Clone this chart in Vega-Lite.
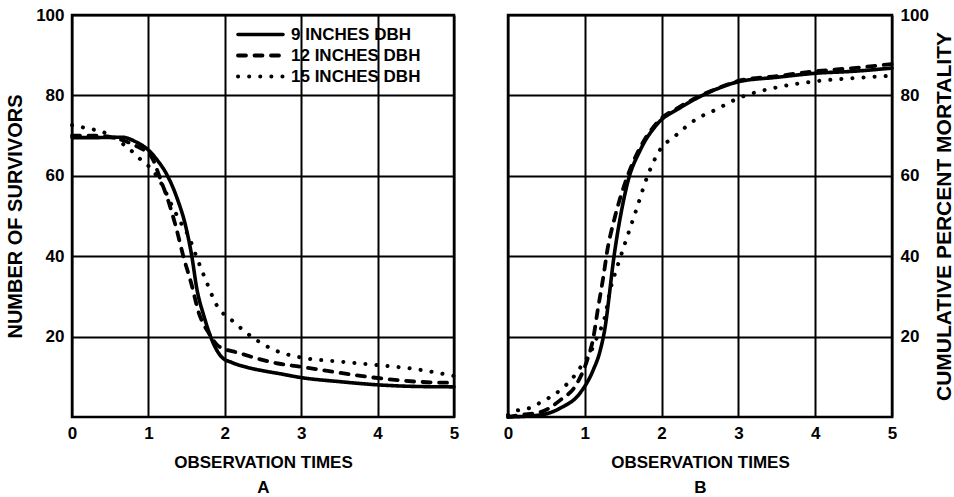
{
  "$schema": "https://vega.github.io/schema/vega-lite/v6.json",
  "background": "white",
  "padding": {"left": 4, "top": 4, "right": 0, "bottom": 0},
  "config": {
    "font": "Liberation Sans",
    "view": {"stroke": "black", "strokeWidth": 2.5},
    "axis": {
      "grid": true, "gridColor": "black", "gridWidth": 2, "gridOpacity": 1,
      "domain": false, "ticks": false,
      "labelFont": "Liberation Sans", "labelFontSize": 17, "labelFontWeight": "bold", "labelColor": "black",
      "labelPadding": 8, "labelFlush": false,
      "titleFont": "Liberation Sans", "titleFontWeight": "bold", "titleColor": "black"
    }
  },
  "data": {"values": [
    {"panel": "A", "series": "9 INCHES DBH", "time": 0, "value": 69.5},
    {"panel": "A", "series": "9 INCHES DBH", "time": 0.3, "value": 69.5},
    {"panel": "A", "series": "9 INCHES DBH", "time": 0.65, "value": 69.6},
    {"panel": "A", "series": "9 INCHES DBH", "time": 0.85, "value": 68.3},
    {"panel": "A", "series": "9 INCHES DBH", "time": 1.0, "value": 66.4},
    {"panel": "A", "series": "9 INCHES DBH", "time": 1.12, "value": 63.8},
    {"panel": "A", "series": "9 INCHES DBH", "time": 1.23, "value": 60.7},
    {"panel": "A", "series": "9 INCHES DBH", "time": 1.37, "value": 54.7},
    {"panel": "A", "series": "9 INCHES DBH", "time": 1.49, "value": 47.3},
    {"panel": "A", "series": "9 INCHES DBH", "time": 1.57, "value": 39.8},
    {"panel": "A", "series": "9 INCHES DBH", "time": 1.63, "value": 32.3},
    {"panel": "A", "series": "9 INCHES DBH", "time": 1.73, "value": 24.9},
    {"panel": "A", "series": "9 INCHES DBH", "time": 1.83, "value": 19.2},
    {"panel": "A", "series": "9 INCHES DBH", "time": 1.96, "value": 14.9},
    {"panel": "A", "series": "9 INCHES DBH", "time": 2.1, "value": 13.5},
    {"panel": "A", "series": "9 INCHES DBH", "time": 2.28, "value": 12.4},
    {"panel": "A", "series": "9 INCHES DBH", "time": 2.5, "value": 11.5},
    {"panel": "A", "series": "9 INCHES DBH", "time": 2.71, "value": 10.8},
    {"panel": "A", "series": "9 INCHES DBH", "time": 3.0, "value": 9.8},
    {"panel": "A", "series": "9 INCHES DBH", "time": 3.5, "value": 8.8},
    {"panel": "A", "series": "9 INCHES DBH", "time": 4.0, "value": 8.0},
    {"panel": "A", "series": "9 INCHES DBH", "time": 4.5, "value": 7.6},
    {"panel": "A", "series": "9 INCHES DBH", "time": 5.0, "value": 7.5},

    {"panel": "A", "series": "12 INCHES DBH", "time": 0, "value": 70},
    {"panel": "A", "series": "12 INCHES DBH", "time": 0.3, "value": 70},
    {"panel": "A", "series": "12 INCHES DBH", "time": 0.6, "value": 69.2},
    {"panel": "A", "series": "12 INCHES DBH", "time": 0.85, "value": 67.3},
    {"panel": "A", "series": "12 INCHES DBH", "time": 1.04, "value": 64.7},
    {"panel": "A", "series": "12 INCHES DBH", "time": 1.16, "value": 59},
    {"panel": "A", "series": "12 INCHES DBH", "time": 1.27, "value": 53.2},
    {"panel": "A", "series": "12 INCHES DBH", "time": 1.36, "value": 47.3},
    {"panel": "A", "series": "12 INCHES DBH", "time": 1.46, "value": 39.8},
    {"panel": "A", "series": "12 INCHES DBH", "time": 1.56, "value": 33.3},
    {"panel": "A", "series": "12 INCHES DBH", "time": 1.66, "value": 25.9},
    {"panel": "A", "series": "12 INCHES DBH", "time": 1.79, "value": 20.9},
    {"panel": "A", "series": "12 INCHES DBH", "time": 1.92, "value": 17.6},
    {"panel": "A", "series": "12 INCHES DBH", "time": 2.19, "value": 15.9},
    {"panel": "A", "series": "12 INCHES DBH", "time": 2.67, "value": 13.4},
    {"panel": "A", "series": "12 INCHES DBH", "time": 3.0, "value": 12.5},
    {"panel": "A", "series": "12 INCHES DBH", "time": 3.5, "value": 11},
    {"panel": "A", "series": "12 INCHES DBH", "time": 4.0, "value": 9.7},
    {"panel": "A", "series": "12 INCHES DBH", "time": 4.5, "value": 8.8},
    {"panel": "A", "series": "12 INCHES DBH", "time": 5.0, "value": 8.5},

    {"panel": "A", "series": "15 INCHES DBH", "time": 0, "value": 72.6},
    {"panel": "A", "series": "15 INCHES DBH", "time": 0.13, "value": 72.1},
    {"panel": "A", "series": "15 INCHES DBH", "time": 0.26, "value": 71.6},
    {"panel": "A", "series": "15 INCHES DBH", "time": 0.54, "value": 69.7},
    {"panel": "A", "series": "15 INCHES DBH", "time": 0.7, "value": 67.4},
    {"panel": "A", "series": "15 INCHES DBH", "time": 0.81, "value": 65.7},
    {"panel": "A", "series": "15 INCHES DBH", "time": 0.9, "value": 64},
    {"panel": "A", "series": "15 INCHES DBH", "time": 1.05, "value": 61.5},
    {"panel": "A", "series": "15 INCHES DBH", "time": 1.2, "value": 57},
    {"panel": "A", "series": "15 INCHES DBH", "time": 1.31, "value": 52.5},
    {"panel": "A", "series": "15 INCHES DBH", "time": 1.42, "value": 48.5},
    {"panel": "A", "series": "15 INCHES DBH", "time": 1.53, "value": 44.8},
    {"panel": "A", "series": "15 INCHES DBH", "time": 1.63, "value": 39.8},
    {"panel": "A", "series": "15 INCHES DBH", "time": 1.75, "value": 34.1},
    {"panel": "A", "series": "15 INCHES DBH", "time": 1.9, "value": 27.6},
    {"panel": "A", "series": "15 INCHES DBH", "time": 2.09, "value": 24.1},
    {"panel": "A", "series": "15 INCHES DBH", "time": 2.41, "value": 19.2},
    {"panel": "A", "series": "15 INCHES DBH", "time": 2.62, "value": 16.9},
    {"panel": "A", "series": "15 INCHES DBH", "time": 3.0, "value": 14.8},
    {"panel": "A", "series": "15 INCHES DBH", "time": 3.5, "value": 13.8},
    {"panel": "A", "series": "15 INCHES DBH", "time": 4.0, "value": 12.9},
    {"panel": "A", "series": "15 INCHES DBH", "time": 4.5, "value": 11.9},
    {"panel": "A", "series": "15 INCHES DBH", "time": 5.0, "value": 10.2},

    {"panel": "B", "series": "9 INCHES DBH", "time": 0, "value": 0},
    {"panel": "B", "series": "9 INCHES DBH", "time": 0.42, "value": 0.5},
    {"panel": "B", "series": "9 INCHES DBH", "time": 0.68, "value": 2.2},
    {"panel": "B", "series": "9 INCHES DBH", "time": 0.94, "value": 6},
    {"panel": "B", "series": "9 INCHES DBH", "time": 1.11, "value": 11.7},
    {"panel": "B", "series": "9 INCHES DBH", "time": 1.2, "value": 16.5},
    {"panel": "B", "series": "9 INCHES DBH", "time": 1.27, "value": 23},
    {"panel": "B", "series": "9 INCHES DBH", "time": 1.32, "value": 30.5},
    {"panel": "B", "series": "9 INCHES DBH", "time": 1.37, "value": 38.5},
    {"panel": "B", "series": "9 INCHES DBH", "time": 1.42, "value": 45},
    {"panel": "B", "series": "9 INCHES DBH", "time": 1.48, "value": 51.5},
    {"panel": "B", "series": "9 INCHES DBH", "time": 1.56, "value": 58.5},
    {"panel": "B", "series": "9 INCHES DBH", "time": 1.72, "value": 66.3},
    {"panel": "B", "series": "9 INCHES DBH", "time": 1.95, "value": 73},
    {"panel": "B", "series": "9 INCHES DBH", "time": 2.24, "value": 76.9},
    {"panel": "B", "series": "9 INCHES DBH", "time": 2.76, "value": 81.9},
    {"panel": "B", "series": "9 INCHES DBH", "time": 3.0, "value": 83.4},
    {"panel": "B", "series": "9 INCHES DBH", "time": 3.5, "value": 84.5},
    {"panel": "B", "series": "9 INCHES DBH", "time": 4.0, "value": 85.5},
    {"panel": "B", "series": "9 INCHES DBH", "time": 4.5, "value": 86},
    {"panel": "B", "series": "9 INCHES DBH", "time": 5.0, "value": 86.8},

    {"panel": "B", "series": "12 INCHES DBH", "time": 0, "value": 0},
    {"panel": "B", "series": "12 INCHES DBH", "time": 0.16, "value": 0.5},
    {"panel": "B", "series": "12 INCHES DBH", "time": 0.42, "value": 1.2},
    {"panel": "B", "series": "12 INCHES DBH", "time": 0.68, "value": 4.2},
    {"panel": "B", "series": "12 INCHES DBH", "time": 0.9, "value": 8.4},
    {"panel": "B", "series": "12 INCHES DBH", "time": 1.03, "value": 14.1},
    {"panel": "B", "series": "12 INCHES DBH", "time": 1.11, "value": 19.6},
    {"panel": "B", "series": "12 INCHES DBH", "time": 1.17, "value": 26.8},
    {"panel": "B", "series": "12 INCHES DBH", "time": 1.24, "value": 34.7},
    {"panel": "B", "series": "12 INCHES DBH", "time": 1.3, "value": 42.2},
    {"panel": "B", "series": "12 INCHES DBH", "time": 1.37, "value": 48.1},
    {"panel": "B", "series": "12 INCHES DBH", "time": 1.55, "value": 59.6},
    {"panel": "B", "series": "12 INCHES DBH", "time": 1.72, "value": 67},
    {"panel": "B", "series": "12 INCHES DBH", "time": 1.94, "value": 73.2},
    {"panel": "B", "series": "12 INCHES DBH", "time": 2.24, "value": 77.2},
    {"panel": "B", "series": "12 INCHES DBH", "time": 2.76, "value": 82},
    {"panel": "B", "series": "12 INCHES DBH", "time": 3.0, "value": 83.6},
    {"panel": "B", "series": "12 INCHES DBH", "time": 3.5, "value": 84.8},
    {"panel": "B", "series": "12 INCHES DBH", "time": 4.0, "value": 86},
    {"panel": "B", "series": "12 INCHES DBH", "time": 4.5, "value": 86.8},
    {"panel": "B", "series": "12 INCHES DBH", "time": 5.0, "value": 87.8},

    {"panel": "B", "series": "15 INCHES DBH", "time": 0, "value": 0.5},
    {"panel": "B", "series": "15 INCHES DBH", "time": 0.07, "value": 1.3},
    {"panel": "B", "series": "15 INCHES DBH", "time": 0.29, "value": 2.3},
    {"panel": "B", "series": "15 INCHES DBH", "time": 0.44, "value": 3.8},
    {"panel": "B", "series": "15 INCHES DBH", "time": 0.57, "value": 5.2},
    {"panel": "B", "series": "15 INCHES DBH", "time": 0.7, "value": 7},
    {"panel": "B", "series": "15 INCHES DBH", "time": 0.85, "value": 9.9},
    {"panel": "B", "series": "15 INCHES DBH", "time": 0.98, "value": 13.4},
    {"panel": "B", "series": "15 INCHES DBH", "time": 1.07, "value": 15.9},
    {"panel": "B", "series": "15 INCHES DBH", "time": 1.16, "value": 19.9},
    {"panel": "B", "series": "15 INCHES DBH", "time": 1.26, "value": 24.8},
    {"panel": "B", "series": "15 INCHES DBH", "time": 1.33, "value": 31.5},
    {"panel": "B", "series": "15 INCHES DBH", "time": 1.42, "value": 37.2},
    {"panel": "B", "series": "15 INCHES DBH", "time": 1.52, "value": 43},
    {"panel": "B", "series": "15 INCHES DBH", "time": 1.68, "value": 52.1},
    {"panel": "B", "series": "15 INCHES DBH", "time": 1.81, "value": 59.6},
    {"panel": "B", "series": "15 INCHES DBH", "time": 1.98, "value": 66.5},
    {"panel": "B", "series": "15 INCHES DBH", "time": 2.17, "value": 69.8},
    {"panel": "B", "series": "15 INCHES DBH", "time": 2.46, "value": 74.2},
    {"panel": "B", "series": "15 INCHES DBH", "time": 2.7, "value": 76.4},
    {"panel": "B", "series": "15 INCHES DBH", "time": 3.0, "value": 79.3},
    {"panel": "B", "series": "15 INCHES DBH", "time": 3.5, "value": 82},
    {"panel": "B", "series": "15 INCHES DBH", "time": 4.0, "value": 83.5},
    {"panel": "B", "series": "15 INCHES DBH", "time": 4.5, "value": 84.3},
    {"panel": "B", "series": "15 INCHES DBH", "time": 5.0, "value": 84.9}
  ]},
  "spacing": 42,
  "resolve": {"scale": {"strokeDash": "independent", "strokeWidth": "independent"}, "legend": {"strokeDash": "independent"}},
  "hconcat": [
    {
      "width": 382,
      "height": 402,
      "transform": [{"filter": "datum.panel == 'A'"}],
      "mark": {"type": "line", "color": "black", "strokeCap": "round", "strokeJoin": "round", "interpolate": "monotone"},
      "encoding": {
        "x": {"field": "time", "type": "quantitative", "scale": {"domain": [0, 5], "nice": false},
              "axis": {"values": [0, 1, 2, 3, 4, 5], "title": ["OBSERVATION TIMES", "A"], "titleFontSize": 17, "titleLineHeight": 25, "titlePadding": 13}},
        "y": {"field": "value", "type": "quantitative", "scale": {"domain": [0, 100], "nice": false},
              "axis": {"values": [20, 40, 60, 80, 100], "title": "NUMBER OF SURVIVORS", "titleFontSize": 20, "titlePadding": 10}},
        "strokeWidth": {
          "field": "series", "type": "nominal",
          "scale": {"domain": ["9 INCHES DBH", "12 INCHES DBH", "15 INCHES DBH"], "range": [3.6, 4, 5.5]},
          "legend": null
        },
        "strokeDash": {
          "field": "series", "type": "nominal",
          "scale": {"domain": ["9 INCHES DBH", "12 INCHES DBH", "15 INCHES DBH"], "range": [[1, 0], [8, 8.5], [0.1, 11]]},
          "legend": {
            "orient": "none", "legendX": 179, "legendY": 10, "title": null, "padding": 0,
            "symbolType": "M-3,0H3", "symbolSize": 225, "symbolStrokeWidth": 4.5, "symbolStrokeColor": "black",
            "labelOffset": 21, "labelFont": "Liberation Sans", "labelFontSize": 17, "labelFontWeight": "bold", "labelColor": "black",
            "rowPadding": 3,
            "encode": {"symbols": {"update": {"strokeCap": {"value": "round"}}}}
          }
        }
      }
    },
    {
      "width": 384,
      "height": 402,
      "transform": [{"filter": "datum.panel == 'B'"}],
      "mark": {"type": "line", "color": "black", "strokeCap": "round", "strokeJoin": "round", "interpolate": "monotone"},
      "encoding": {
        "x": {"field": "time", "type": "quantitative", "scale": {"domain": [0, 5], "nice": false},
              "axis": {"values": [0, 1, 2, 3, 4, 5], "title": ["OBSERVATION TIMES", "B"], "titleFontSize": 17, "titleLineHeight": 25, "titlePadding": 13}},
        "y": {"field": "value", "type": "quantitative", "scale": {"domain": [0, 100], "nice": false},
              "axis": {"orient": "right", "values": [20, 40, 60, 80, 100], "title": "CUMULATIVE PERCENT MORTALITY", "titleFontSize": 21, "titleAngle": 270, "titlePadding": 26}},
        "strokeWidth": {
          "field": "series", "type": "nominal",
          "scale": {"domain": ["9 INCHES DBH", "12 INCHES DBH", "15 INCHES DBH"], "range": [3.6, 4, 5.5]},
          "legend": null
        },
        "strokeDash": {
          "field": "series", "type": "nominal",
          "scale": {"domain": ["9 INCHES DBH", "12 INCHES DBH", "15 INCHES DBH"], "range": [[1, 0], [8, 8.5], [0.1, 11]]},
          "legend": null
        }
      }
    }
  ]
}
